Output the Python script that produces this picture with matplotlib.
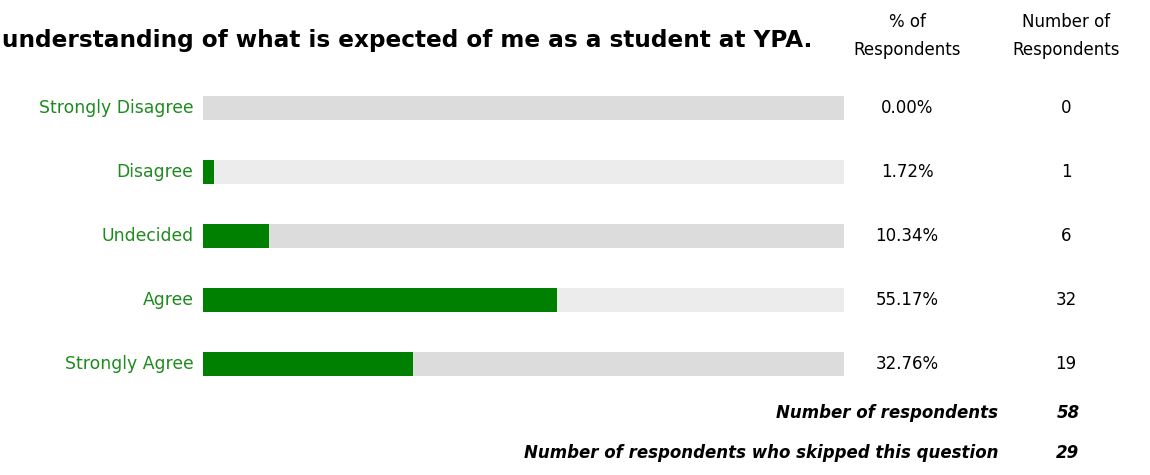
import matplotlib
matplotlib.use("Agg")
import matplotlib.pyplot as plt
from matplotlib.transforms import blended_transform_factory

categories = ["Strongly Disagree", "Disagree", "Undecided", "Agree", "Strongly Agree"]
percents = [0.00, 1.72, 10.34, 55.17, 32.76]
counts = [0, 1, 6, 32, 19]
title = "understanding of what is expected of me as a student at YPA."
total_label = "Number of respondents"
total = 58
skipped_label = "Number of respondents who skipped this question"
skipped = 29

W, H = 1150, 475
fig = plt.figure(figsize=(W / 100, H / 100), dpi=100)
plt.rcParams['font.family'] = ['DejaVu Sans']

# bar area in pixels: x 203..844, rows centred 108..364
ax = fig.add_axes([203 / W, 1 - 396 / H, (844 - 203) / W, (396 - 76) / H])
ax.set_xlim(0, 100)
ax.set_ylim(len(categories) - 0.5, -0.5)

track_colors = ["#dcdcdc", "#ececec"]
for i, (cat, p) in enumerate(zip(categories, percents)):
    ax.barh(i, 100, height=0.36, color=track_colors[i % 2], linewidth=0)
    ax.barh(i, p, height=0.36, color="#008000", linewidth=0)

ax.set_yticks(range(len(categories)))
ax.set_yticklabels(categories, color="#1f8a1f", fontsize=12.4, va="center")
ax.tick_params(axis="y", length=0, pad=7)
ax.set_xticks([])
for s in ax.spines.values():
    s.set_visible(False)

tr = blended_transform_factory(fig.transFigure, ax.transData)
for i, (p, c) in enumerate(zip(percents, counts)):
    ax.text(907 / W, i, f"{p:.2f}%", transform=tr, ha="center", va="center", fontsize=12)
    ax.text(1066 / W, i, str(c), transform=tr, ha="center", va="center", fontsize=12)

fig.text(812 / W, 1 - 40 / H, title, ha="right", va="center", fontsize=16.7, fontweight="bold")
fig.text(907 / W, 1 - 36 / H, "% of\nRespondents", ha="center", va="center", fontsize=12,
         linespacing=1.75)
fig.text(1066 / W, 1 - 36 / H, "Number of\nRespondents", ha="center", va="center", fontsize=12,
         linespacing=1.75)

fig.text(998 / W, 1 - 413 / H, total_label, ha="right", va="center", fontsize=12,
         fontweight="bold", style="italic")
fig.text(1068 / W, 1 - 413 / H, str(total), ha="center", va="center", fontsize=12,
         fontweight="bold", style="italic")
fig.text(998 / W, 1 - 453 / H, skipped_label, ha="right", va="center", fontsize=12,
         fontweight="bold", style="italic")
fig.text(1068 / W, 1 - 453 / H, str(skipped), ha="center", va="center", fontsize=12,
         fontweight="bold", style="italic")

fig.savefig("out.png", dpi=100)
